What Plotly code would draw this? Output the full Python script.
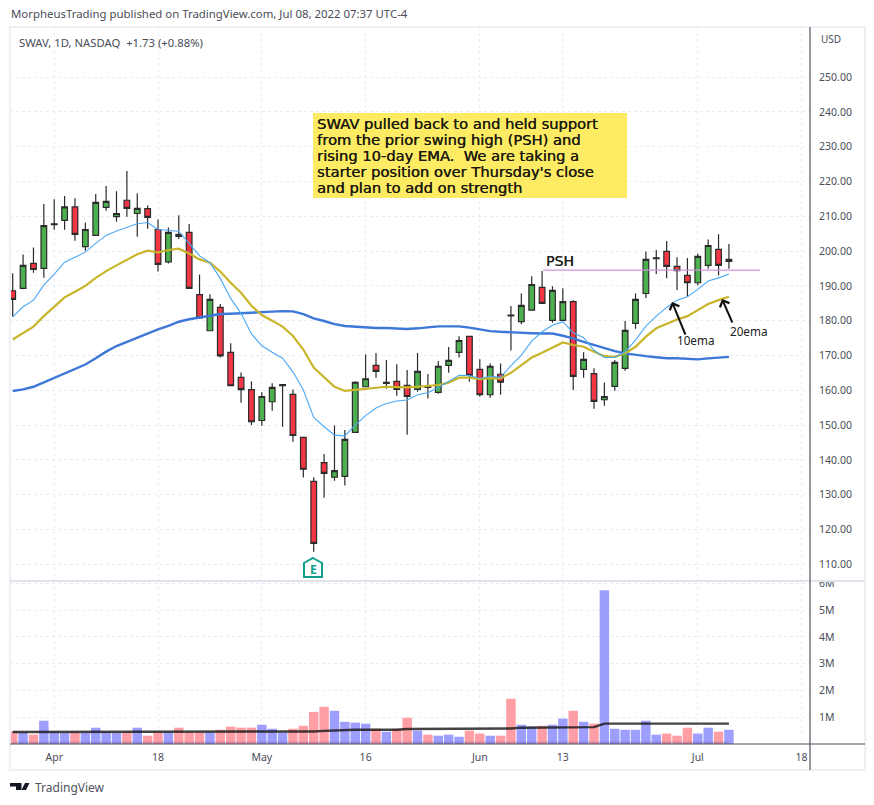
"""SWAV daily chart with EMAs and volume, laid out like the TradingView snapshot."""

import plotly.graph_objects as go

bar_index = list(range(70))
x_tick_vals = [4, 14, 24, 34, 45, 53, 66, 76]
x_tick_text = ["Apr", "18", "May", "16", "Jun", "13", "Jul", "18"]
price_ticks = [110, 120, 130, 140, 150, 160, 170, 180, 190, 200, 210, 220, 230, 240, 250]
vol_ticks = [1, 2, 3, 4, 5, 6]
vol_tick_text = ["1M", "2M", "3M", "4M", "5M", "6M"]

is_up = [0, 1, 0, 1, 1, 1, 0, 1, 1, 1,
         1, 0, 1, 0, 0, 1, 0, 0, 0, 1,
         0, 0, 0, 0, 1, 1, 1, 0, 0, 0,
         0, 1, 1, 1, 1, 0, 1, 0, 0, 1,
         0, 1, 1, 1, 0, 0, 1, 0, 0, 1,
         1, 0, 1, 1, 0, 1, 0, 1, 1, 1,
         1, 1, 1, 0, 0, 0, 1, 1, 0, 1]
candle_high = [193.6, 199.0, 201.05, 213.5, 214.9, 215.8, 215.2, 208.2, 216.4, 218.7,
               217.2, 223.0, 216.6, 213.1, 209.1, 206.8, 210.3, 207.8, 193.3, 187.6,
               184.8, 173.5, 165.1, 162.5, 159.4, 162.0, 161.6, 160.2, 146.5, 135.0,
               141.7, 149.9, 148.6, 162.6, 170.3, 170.7, 168.7, 167.5, 165.8, 170.7,
               164.7, 168.4, 172.4, 175.5, 175.5, 168.9, 167.7, 167.7, 184.2, 187.8,
               192.8, 194.25, 189.9, 189.3, 185.9, 170.9, 166.3, 162.25, 168.7, 179.9,
               187.8, 199.9, 200.3, 202.9, 198.2, 198.0, 199.3, 203.3, 204.8, 202.0]
candle_low = [181.1, 189.0, 193.8, 192.3, 206.1, 206.1, 203.0, 200.1, 204.4, 211.6,
              208.4, 209.9, 204.1, 206.4, 194.1, 196.4, 203.5, 189.3, 180.6, 177.1,
              169.4, 161.3, 156.4, 150.0, 149.8, 154.1, 149.5, 145.2, 134.9, 113.6,
              129.1, 134.0, 132.6, 147.8, 161.0, 163.6, 160.4, 158.4, 147.2, 159.6,
              157.6, 159.0, 165.0, 169.4, 162.45, 158.1, 157.85, 158.7, 171.4, 179.0,
              182.85, 184.95, 179.4, 180.07, 160.05, 163.6, 154.7, 155.55, 159.86, 165.6,
              177.67, 186.5, 193.4, 192.2, 188.8, 186.9, 190.2, 194.9, 193.0, 194.9]
body_top = [188.6, 195.9, 196.45, 207.3, 207.85, 212.7, 212.7, 206.2, 214.0, 214.3,
            210.8, 214.6, 212.25, 212.2, 206.2, 205.4, 204.8, 205.4, 187.5, 186.1,
            183.8, 170.9, 163.7, 160.2, 158.2, 160.8, 161.6, 158.8, 146.46, 133.8,
            139.2, 136.9, 145.9, 162.3, 163.3, 167.15, 162.3, 162.55, 161.4, 165.4,
            161.3, 166.9, 168.6, 174.3, 175.5, 166.0, 166.9, 164.6, 181.6, 184.4,
            190.4, 189.55, 188.7, 185.5, 185.5, 168.86, 164.8, 158.2, 168.0, 177.2,
            186.1, 197.6, 198.08, 199.9, 195.6, 193.0, 198.46, 201.6, 200.5, 197.6]
body_bottom = [186.1, 189.3, 194.7, 195.0, 207.6, 208.8, 204.8, 201.3, 204.5, 212.55,
               209.9, 212.25, 210.8, 209.7, 196.2, 196.9, 204.2, 189.3, 180.8, 177.1,
               169.9, 161.3, 160.2, 150.95, 151.3, 156.7, 161.3, 147.0, 137.3, 116.0,
               136.1, 135.0, 135.25, 147.9, 161.0, 165.4, 162.0, 160.25, 158.2, 160.25,
               160.8, 159.4, 167.15, 170.9, 164.3, 158.7, 158.7, 162.3, 181.4, 179.7,
               183.0, 184.95, 180.07, 180.07, 164.0, 166.0, 156.8, 157.27, 161.1, 166.27,
               179.2, 187.8, 197.8, 195.6, 194.4, 190.9, 190.9, 195.87, 195.87, 197.0]

ema_10 = [181.1, 184.0, 185.9, 190.2, 193.4, 196.8, 198.2, 199.7, 202.2, 204.5,
          205.75, 206.9, 207.85, 208.2, 206.2, 206.0, 205.65, 202.2, 198.6, 196.65,
          192.15, 186.4, 182.1, 176.2, 172.8, 170.9, 169.2, 165.3, 160.06, 152.2,
          149.5, 147.1, 146.9, 150.0, 152.7, 154.9, 156.2, 156.9, 157.2, 158.7,
          159.3, 160.8, 162.45, 164.3, 164.2, 163.4, 164.0, 163.7, 167.05, 170.1,
          174.1, 176.8, 178.7, 179.7, 176.5, 175.1, 171.5, 169.4, 169.4, 171.07,
          174.4, 178.4, 181.3, 183.8, 185.9, 186.9, 189.0, 191.4, 192.3, 193.4]
ema_20 = [174.6, 176.5, 178.3, 181.3, 184.0, 186.7, 188.3, 190.0, 192.3, 194.25,
          195.9, 197.4, 199.1, 200.1, 199.6, 200.3, 200.7, 199.3, 197.6, 196.65,
          194.1, 190.9, 188.0, 184.3, 181.6, 180.0, 178.3, 175.6, 171.7, 166.5,
          163.7, 161.0, 159.8, 160.06, 160.4, 160.8, 161.0, 160.9, 160.8, 161.0,
          161.2, 161.5, 162.2, 163.6, 163.6, 163.2, 163.5, 163.4, 165.0, 167.1,
          169.4, 170.8, 172.3, 173.75, 173.0, 172.5, 171.07, 169.8, 169.6, 170.6,
          172.5, 175.4, 177.8, 179.0, 180.36, 181.3, 183.0, 184.8, 185.9, 186.87]
ema_50 = [159.8, 160.25, 161.0, 162.26, 163.4, 164.8, 166.0, 167.4, 169.2, 171.1,
          172.7, 173.95, 175.2, 176.3, 177.5, 178.5, 179.7, 180.4, 180.9, 181.5,
          181.9, 182.0, 182.1, 182.2, 182.4, 182.6, 182.75, 182.66, 181.9, 180.65,
          179.9, 179.0, 178.45, 178.26, 177.9, 177.9, 177.9, 177.7, 177.6, 177.8,
          178.07, 178.35, 178.35, 178.35, 178.0, 177.5, 177.0, 176.8, 176.6, 176.5,
          176.4, 176.3, 176.3, 175.66, 174.9, 173.9, 173.0, 172.0, 171.26, 170.6,
          170.1, 169.8, 169.5, 169.2, 169.2, 168.96, 168.86, 169.15, 169.4, 169.6]

volume_m = [0.47, 0.44, 0.35, 0.87, 0.44, 0.41, 0.44, 0.41, 0.61, 0.44,
            0.41, 0.44, 0.61, 0.31, 0.44, 0.44, 0.61, 0.44, 0.44, 0.44,
            0.53, 0.65, 0.61, 0.61, 0.72, 0.57, 0.44, 0.57, 0.68, 1.2,
            1.39, 1.24, 0.83, 0.8, 0.76, 0.57, 0.46, 0.57, 0.98, 0.5,
            0.35, 0.31, 0.35, 0.27, 0.5, 0.39, 0.31, 0.31, 1.69, 0.72,
            0.65, 0.68, 0.72, 0.95, 1.24, 0.83, 0.76, 5.75, 0.57, 0.53,
            0.53, 0.87, 0.35, 0.39, 0.31, 0.61, 0.39, 0.61, 0.46, 0.53]
volume_ma_m = [0.45] * 29 + [0.47, 0.49, 0.51, 0.52] + [0.53] * 5 + [0.56] * 10 + [
    0.58, 0.61, 0.61, 0.61, 0.61, 0.62, 0.63, 0.63, 0.63] + [0.76] * 13
volume_base_x = [0, 69]
volume_base_m = [0.09, 0.09]

psh_x = [51.1, 72]
psh_price = [194.5, 194.5]

headline = "MorpheusTrading published on TradingView.com, Jul 08, 2022 07:37 UTC-4"
symbol_line = "SWAV, 1D, NASDAQ  +1.73 (+0.88%)"
note_lines = ["SWAV pulled back to and held support",
              "from the prior swing high (PSH) and",
              "rising 10-day EMA.  We are taking a",
              "starter position over Thursday's close",
              "and plan to add on strength"]

TEXT_FONT = "Noto Sans"
NOTE_FONT = "DejaVu Sans"
GRID = "#e9ecf3"
AXIS = "#50535e"
THICK = "0.35px 0 0 #1c1a10"


# window pixels -> paper coords
def px(x):
    return (x - 10) / 800


def py(y):
    return (744 - y) / 717


def label(x, y, text, size=11, color="#4a4d57", font=TEXT_FONT, xanchor="left", weight=None, shadow=None):
    fig.add_annotation(x=px(x), y=py(y), xref="paper", yref="paper", text=text,
                       showarrow=False, xanchor=xanchor, yanchor="middle", borderpad=0,
                       font=dict(family=font, size=size, color=color, weight=weight, shadow=shadow))


def arrow(x0, y0, x1, y1):
    fig.add_annotation(x=px(x1), y=py(y1), ax=x0 - x1, ay=y0 - y1, xref="paper", yref="paper",
                       axref="pixel", ayref="pixel", text="", showarrow=True,
                       arrowhead=4, arrowsize=1, arrowwidth=2, arrowcolor="#111111", standoff=0)


def rect(x0, y0, x1, y1, **kw):
    fig.add_shape(type="rect", xref="paper", yref="paper", x0=px(x0), x1=px(x1),
                  y0=py(y0), y1=py(y1), layer="above", **kw)


def hline(x0, x1, y, color, width):
    fig.add_shape(type="line", xref="paper", yref="paper", x0=px(x0), x1=px(x1), y0=py(y), y1=py(y),
                  layer="above", line=dict(color=color, width=width))


def path(points, **kw):
    d = "M" + " L".join(f"{px(a)},{py(b)}" for a, b in points) + " Z"
    fig.add_shape(type="path", xref="paper", yref="paper", path=d, layer="above", **kw)


candle_open = [b if u else t for u, t, b in zip(is_up, body_top, body_bottom)]
candle_close = [t if u else b for u, t, b in zip(is_up, body_top, body_bottom)]
volume_colors = ["#9e9eff" if u else "#ff9ea5" for u in is_up]

fig = go.Figure()
fig.add_trace(go.Candlestick(x=bar_index, open=candle_open, high=candle_high, low=candle_low,
                             close=candle_close, yaxis="y", whiskerwidth=0,
                             increasing=dict(fillcolor="#4caf50", line=dict(color="#2b2b2b", width=1.2)),
                             decreasing=dict(fillcolor="#f23645", line=dict(color="#2b2b2b", width=1.2))))
fig.add_trace(go.Scatter(x=bar_index, y=ema_50, mode="lines", yaxis="y",
                         line=dict(color="#3d78d8", width=2.4)))
fig.add_trace(go.Scatter(x=bar_index, y=ema_20, mode="lines", yaxis="y",
                         line=dict(color="#c9b52a", width=2.2)))
fig.add_trace(go.Scatter(x=bar_index, y=ema_10, mode="lines", yaxis="y",
                         line=dict(color="#4aa8f5", width=1.1)))
fig.add_trace(go.Scatter(x=psh_x, y=psh_price, mode="lines", yaxis="y",
                         line=dict(color="#ce93d8", width=1.2)))

fig.add_trace(go.Bar(x=bar_index, y=volume_m, yaxis="y2", marker=dict(color=volume_colors, line_width=0)))
fig.add_trace(go.Scatter(x=volume_base_x, y=volume_base_m, mode="lines", yaxis="y2", fill="tozeroy",
                         line=dict(width=0), fillcolor="rgba(80,50,140,0.22)"))
fig.add_trace(go.Scatter(x=bar_index, y=volume_ma_m, mode="lines", yaxis="y2",
                         line=dict(color="rgba(20,20,20,0.8)", width=2.4)))

fig.update_layout(
    width=874, height=805,
    margin=dict(l=10, r=64, t=27, b=61, pad=0, autoexpand=False),
    paper_bgcolor="white", plot_bgcolor="white",
    showlegend=False, bargap=0.09, boxgap=0.22,
    font=dict(family=TEXT_FONT, size=10.5, color="#4a4d57"),
    xaxis=dict(range=[-0.26, 76.81], anchor="y2", tickmode="array", tickvals=x_tick_vals,
               ticktext=x_tick_text, ticks="outside", ticklen=3, tickcolor="white",
               showgrid=True, gridcolor=GRID, griddash="dot", zeroline=False,
               rangeslider=dict(visible=False), showline=False),
    yaxis=dict(domain=[0.2273, 1], range=[105.17, 264.4], side="right", tickmode="array",
               tickvals=price_ticks, tickformat=".2f", ticks="outside", ticklen=6, tickcolor="white",
               showgrid=True, gridcolor=GRID, griddash="dot", zeroline=False),
    yaxis2=dict(domain=[0, 0.2273], range=[0, 6.09], side="right", tickmode="array",
                tickvals=vol_ticks, ticktext=vol_tick_text, ticks="outside", ticklen=6, tickcolor="white",
                showgrid=True, gridcolor=GRID, griddash="dot", zeroline=False),
)

# frame, pane divider, axis lines
rect(811, 574, 863, 581, fillcolor="white", line_width=0)
rect(10, 27, 865, 770, line=dict(color="#eff0f6", width=2))
hline(10, 865, 581, "#e0e3eb", 2)
hline(10, 865, 744, AXIS, 1.2)
fig.add_shape(type="line", xref="paper", yref="paper", x0=px(810), x1=px(810), y0=py(27), y1=py(770),
              layer="above", line=dict(color=AXIS, width=1.2))

# note box
rect(313, 113, 627, 198, fillcolor="#fdec63", line_width=0)
for i, line in enumerate(note_lines):
    label(316, 123.5 + i * 16, line, size=14.7, color="#1c1a10", font=NOTE_FONT, shadow=THICK)

# earnings flag
path([(313, 558), (322, 563), (322, 577), (304, 577), (304, 563)],
     fillcolor="white", line=dict(color="#12a08e", width=2))
label(313, 569, "E", size=12, color="#12a08e", xanchor="center", weight=700)

label(545, 261, "PSH", size=14, color="#222222", font=NOTE_FONT, shadow=THICK)
label(676, 340, "10ema", size=11.7, color="#222222")
label(729, 331, "20ema", size=11.7, color="#222222")
arrow(686, 336, 672, 302)
arrow(733, 324, 722, 299)

label(10, 14, headline, size=11.4)
label(18, 42, symbol_line, size=11.3)
label(820, 39, "USD", size=10)

# TradingView mark and name
path([(10, 783), (21.5, 783), (21.5, 790), (16, 790), (16, 786.5), (10, 786.5)], fillcolor="#131722", line_width=0)
path([(25, 783), (29.5, 783), (26, 790), (21.5, 790)], fillcolor="#131722", line_width=0)
label(34, 787, "TradingView", size=12, color="#50535e")

fig.write_html("out.html", config={"displayModeBar": False},
               post_script="document.body.style.margin = '0';")
